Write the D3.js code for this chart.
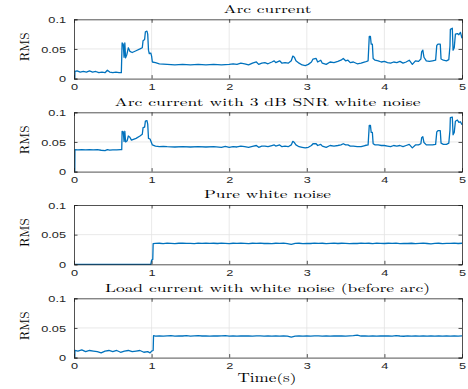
<!DOCTYPE html>
<html><head><meta charset="utf-8">
<script src="https://cdn.jsdelivr.net/npm/d3@7"></script>
<style>body{margin:0;background:#fff}svg{display:block}</style>
</head><body>
<script>
// ---------- data ----------
const titles = ["Arc current","Arc current with 3 dB SNR white noise","Pure white noise","Load current with white noise (before arc)"];
const titleWidths = [88, 306, 127, 325];
const xTicks = [0,1,2,3,4,5];
const yTicks = [0,0.05,0.1];
const yTickLabels = ["0","0.05","0.1"];
const xLabel = "Time(s)";
const yLabel = "RMS";

const arcCurrent = [[0,0],[0.01,0],[0.012,0.012],[0.04,0.013],[0.08,0.011],[0.12,0.012],[0.16,0.011],[0.2,0.013],[0.24,0.011],[0.28,0.012],[0.32,0.010],[0.36,0.011],[0.4,0.010],[0.43,0.014],[0.46,0.011],[0.5,0.010],[0.54,0.011],[0.58,0.010],[0.61,0.010],[0.62,0.060],[0.635,0.058],[0.645,0.036],[0.655,0.060],[0.665,0.035],[0.68,0.040],[0.70,0.052],[0.72,0.046],[0.75,0.044],[0.8,0.047],[0.85,0.050],[0.88,0.052],[0.89,0.064],[0.91,0.066],[0.92,0.079],[0.94,0.080],[0.95,0.075],[0.96,0.048],[0.97,0.042],[0.99,0.043],[1.0,0.038],[1.01,0.028],[1.05,0.027],[1.1,0.025],[1.2,0.024],[1.3,0.023],[1.4,0.024],[1.5,0.023],[1.6,0.024],[1.7,0.023],[1.8,0.024],[1.9,0.023],[2.0,0.024],[2.05,0.025],[2.1,0.024],[2.15,0.026],[2.2,0.025],[2.25,0.023],[2.3,0.026],[2.35,0.028],[2.38,0.024],[2.42,0.026],[2.46,0.027],[2.5,0.025],[2.55,0.028],[2.58,0.030],[2.6,0.027],[2.65,0.030],[2.68,0.026],[2.72,0.027],[2.76,0.026],[2.8,0.030],[2.82,0.038],[2.84,0.036],[2.86,0.030],[2.9,0.026],[2.94,0.023],[2.98,0.022],[3.02,0.024],[3.06,0.028],[3.08,0.033],[3.12,0.034],[3.14,0.028],[3.18,0.031],[3.2,0.026],[3.25,0.024],[3.3,0.028],[3.35,0.027],[3.4,0.029],[3.44,0.031],[3.47,0.034],[3.5,0.030],[3.53,0.031],[3.56,0.027],[3.6,0.028],[3.65,0.025],[3.7,0.026],[3.75,0.028],[3.79,0.030],[3.805,0.071],[3.82,0.071],[3.83,0.058],[3.845,0.058],[3.855,0.034],[3.88,0.031],[3.92,0.030],[3.96,0.028],[4.0,0.029],[4.04,0.027],[4.08,0.026],[4.12,0.028],[4.16,0.027],[4.2,0.029],[4.24,0.026],[4.28,0.028],[4.32,0.031],[4.36,0.024],[4.4,0.030],[4.44,0.029],[4.47,0.033],[4.48,0.045],[4.495,0.048],[4.51,0.036],[4.54,0.030],[4.58,0.029],[4.62,0.030],[4.66,0.031],[4.675,0.056],[4.69,0.058],[4.72,0.058],[4.73,0.033],[4.76,0.031],[4.8,0.030],[4.83,0.032],[4.845,0.055],[4.85,0.083],[4.875,0.085],[4.885,0.048],[4.9,0.052],[4.915,0.075],[4.94,0.076],[4.96,0.074],[4.98,0.078],[5.0,0.068]];

const arcNoisy = [[0,0],[0.01,0],[0.012,0.037],[0.05,0.0365],[0.1,0.037],[0.15,0.0365],[0.2,0.0372],[0.25,0.0365],[0.3,0.037],[0.35,0.036],[0.4,0.0355],[0.43,0.0372],[0.46,0.0362],[0.5,0.0368],[0.55,0.0365],[0.6,0.037],[0.615,0.037],[0.62,0.068],[0.635,0.067],[0.645,0.051],[0.655,0.068],[0.665,0.050],[0.685,0.052],[0.70,0.060],[0.72,0.058],[0.74,0.053],[0.8,0.056],[0.85,0.060],[0.88,0.063],[0.89,0.074],[0.91,0.075],[0.92,0.085],[0.94,0.086],[0.95,0.080],[0.96,0.056],[0.98,0.055],[0.995,0.050],[1.01,0.045],[1.05,0.043],[1.1,0.042],[1.15,0.0425],[1.2,0.042],[1.3,0.0415],[1.4,0.042],[1.5,0.0415],[1.6,0.042],[1.7,0.0415],[1.8,0.042],[1.9,0.041],[1.95,0.0425],[2.0,0.041],[2.05,0.042],[2.1,0.0415],[2.15,0.043],[2.2,0.042],[2.25,0.041],[2.3,0.0425],[2.35,0.044],[2.38,0.041],[2.42,0.043],[2.46,0.043],[2.5,0.042],[2.55,0.044],[2.58,0.045],[2.6,0.043],[2.65,0.045],[2.68,0.042],[2.72,0.043],[2.76,0.042],[2.8,0.045],[2.82,0.051],[2.84,0.049],[2.86,0.045],[2.9,0.042],[2.94,0.041],[2.98,0.040],[3.02,0.041],[3.06,0.044],[3.08,0.047],[3.12,0.047],[3.14,0.044],[3.18,0.046],[3.2,0.043],[3.25,0.041],[3.3,0.044],[3.35,0.043],[3.4,0.044],[3.44,0.045],[3.47,0.047],[3.5,0.045],[3.53,0.045],[3.56,0.043],[3.6,0.043],[3.65,0.042],[3.7,0.042],[3.75,0.044],[3.79,0.045],[3.805,0.078],[3.82,0.078],[3.83,0.066],[3.845,0.066],[3.855,0.047],[3.88,0.045],[3.92,0.045],[3.96,0.044],[4.0,0.044],[4.04,0.043],[4.08,0.042],[4.12,0.044],[4.16,0.043],[4.2,0.044],[4.24,0.042],[4.28,0.044],[4.32,0.046],[4.36,0.040],[4.4,0.045],[4.44,0.045],[4.47,0.047],[4.48,0.057],[4.495,0.059],[4.51,0.049],[4.54,0.045],[4.58,0.045],[4.62,0.045],[4.66,0.046],[4.675,0.067],[4.69,0.069],[4.72,0.069],[4.73,0.048],[4.76,0.046],[4.8,0.046],[4.83,0.048],[4.845,0.070],[4.85,0.091],[4.875,0.092],[4.885,0.062],[4.9,0.066],[4.915,0.085],[4.94,0.087],[4.96,0.083],[4.98,0.084],[5.0,0.079]];

const pureNoise = [[0,0],[0.99,0],[1.0,0.007],[1.015,0.008],[1.02,0.035],[1.05,0.0352],[1.1,0.0355],[1.15,0.0350],[1.2,0.0356],[1.25,0.0353],[1.3,0.0349],[1.35,0.0355],[1.4,0.0357],[1.45,0.0352],[1.5,0.0354],[1.55,0.0350],[1.6,0.0356],[1.65,0.0353],[1.7,0.0358],[1.75,0.0352],[1.8,0.0355],[1.85,0.0351],[1.9,0.0356],[1.95,0.0353],[2.0,0.0350],[2.05,0.0355],[2.1,0.0352],[2.15,0.0357],[2.2,0.0353],[2.25,0.0350],[2.3,0.0355],[2.35,0.0352],[2.4,0.0356],[2.45,0.0351],[2.5,0.0354],[2.55,0.0350],[2.6,0.0355],[2.65,0.0352],[2.7,0.0356],[2.75,0.0350],[2.8,0.0336],[2.85,0.0352],[2.9,0.0355],[2.95,0.0350],[3.0,0.0354],[3.05,0.0351],[3.1,0.0356],[3.15,0.0352],[3.2,0.0355],[3.25,0.0350],[3.3,0.0354],[3.35,0.0357],[3.4,0.0351],[3.45,0.0355],[3.5,0.0352],[3.55,0.0349],[3.6,0.0354],[3.65,0.0351],[3.7,0.0356],[3.75,0.0352],[3.8,0.0355],[3.85,0.0350],[3.9,0.0357],[3.95,0.0353],[4.0,0.0351],[4.05,0.0355],[4.1,0.0352],[4.15,0.0356],[4.2,0.0350],[4.25,0.0354],[4.3,0.0351],[4.35,0.0355],[4.4,0.0348],[4.45,0.0353],[4.5,0.0356],[4.55,0.0351],[4.6,0.0346],[4.65,0.0353],[4.7,0.0355],[4.75,0.0350],[4.8,0.0354],[4.85,0.0352],[4.9,0.0356],[4.95,0.0351],[5.0,0.0355]];

const loadNoise = [[0,0],[0.01,0],[0.012,0.012],[0.05,0.011],[0.1,0.013],[0.15,0.010],[0.2,0.012],[0.25,0.011],[0.3,0.010],[0.35,0.008],[0.4,0.011],[0.45,0.012],[0.5,0.010],[0.55,0.012],[0.6,0.009],[0.65,0.011],[0.7,0.012],[0.75,0.010],[0.8,0.011],[0.85,0.012],[0.9,0.009],[0.95,0.010],[0.98,0.008],[1.0,0.011],[1.02,0.012],[1.025,0.037],[1.05,0.0362],[1.1,0.0368],[1.15,0.0362],[1.2,0.0366],[1.25,0.0370],[1.3,0.0363],[1.35,0.0367],[1.4,0.0364],[1.45,0.0369],[1.5,0.0363],[1.55,0.0366],[1.6,0.0370],[1.65,0.0364],[1.7,0.0367],[1.75,0.0362],[1.8,0.0368],[1.85,0.0364],[1.9,0.0366],[1.95,0.0370],[2.0,0.0363],[2.05,0.0366],[2.1,0.0362],[2.15,0.0368],[2.2,0.0364],[2.25,0.0367],[2.3,0.0362],[2.35,0.0368],[2.4,0.0365],[2.45,0.0362],[2.5,0.0367],[2.55,0.0363],[2.6,0.0366],[2.65,0.0362],[2.7,0.0365],[2.75,0.0361],[2.8,0.0345],[2.85,0.0362],[2.9,0.0366],[2.95,0.0363],[3.0,0.0367],[3.05,0.0362],[3.1,0.0365],[3.15,0.0368],[3.2,0.0363],[3.25,0.0366],[3.3,0.0362],[3.35,0.0367],[3.4,0.0364],[3.45,0.0368],[3.5,0.0363],[3.55,0.0366],[3.6,0.0369],[3.65,0.0378],[3.7,0.0364],[3.75,0.0367],[3.8,0.0362],[3.85,0.0366],[3.9,0.0363],[3.95,0.0368],[4.0,0.0364],[4.05,0.0366],[4.1,0.0362],[4.15,0.0371],[4.2,0.0364],[4.25,0.0360],[4.3,0.0366],[4.35,0.0362],[4.4,0.0367],[4.45,0.0363],[4.5,0.0365],[4.55,0.0361],[4.6,0.0366],[4.65,0.0363],[4.7,0.0367],[4.75,0.0362],[4.8,0.0365],[4.85,0.0363],[4.9,0.0366],[4.95,0.0362],[5.0,0.0366]];

const series = [arcCurrent, arcNoisy, pureNoise, loadNoise];

// ---------- layout ----------
const W = 468, H = 389;
const left = 74, right = 462;
const panelTops = [19.3, 112.3, 205, 298.3];
const panelH = 59.3;
const lineColor = "#0072BD";
const serif = "'Latin Modern Roman','CMU Serif','Liberation Serif','Times New Roman',serif";
const sans = "'Liberation Sans',Arial,Helvetica,sans-serif";
const hStretch = 1.3;

const svg = d3.select("body").append("svg").attr("width", W).attr("height", H)
  .style("background", "#fff");

const x = d3.scaleLinear().domain([0,5]).range([left, right]);

function stretch(sel, factor, target) {
  sel.each(function(){
    const n = this.getComputedTextLength();
    const L = target != null ? target : n * factor;
    d3.select(this).attr("textLength", L).attr("lengthAdjust", "spacingAndGlyphs");
  });
}

series.forEach((data, i) => {
  const top = panelTops[i], bottom = top + panelH;
  const y = d3.scaleLinear().domain([0, 0.1]).range([bottom, top]);
  const g = svg.append("g");

  // grid
  g.selectAll(".gx").data(xTicks.slice(1, -1)).join("line")
    .attr("x1", d => x(d)).attr("x2", d => x(d)).attr("y1", top).attr("y2", bottom)
    .attr("stroke", "#e3e3e3").attr("stroke-width", 0.8);
  g.selectAll(".gy").data([0.05]).join("line")
    .attr("x1", left).attr("x2", right).attr("y1", d => y(d)).attr("y2", d => y(d))
    .attr("stroke", "#e3e3e3").attr("stroke-width", 0.8);

  // line
  const line = d3.line().x(d => x(d[0])).y(d => y(d[1]));
  g.append("path").datum(data).attr("d", line)
    .attr("fill", "none").attr("stroke", lineColor).attr("stroke-width", 1.3)
    .attr("stroke-linejoin", "round");

  // axes (ticks inside)
  const xAxis = d3.axisBottom(x).tickValues(xTicks).tickSize(-3.5).tickPadding(4.5).tickFormat(d3.format("d"));
  const xAxisTop = d3.axisTop(x).tickValues(xTicks).tickSize(-3.5).tickFormat("");
  const yAxis = d3.axisLeft(y).tickValues(yTicks).tickSize(-3.5).tickPadding(8)
    .tickFormat((d, k) => yTickLabels[k]);
  const yAxisR = d3.axisRight(y).tickValues(yTicks).tickSize(-3.5).tickFormat("");

  const gx = g.append("g").attr("transform", `translate(0,${bottom})`).call(xAxis);
  g.append("g").attr("transform", `translate(0,${top})`).call(xAxisTop);
  const gy = g.append("g").attr("transform", `translate(${left},0)`).call(yAxis);
  g.append("g").attr("transform", `translate(${right},0)`).call(yAxisR);
  g.selectAll(".domain").attr("stroke", "#262626").attr("stroke-width", 0.8);
  g.selectAll(".tick line").attr("stroke", "#262626").attr("stroke-width", 0.8);
  g.selectAll(".tick text").attr("fill", "#262626").style("font-family", sans).style("font-size", "9.8px");
  stretch(gx.selectAll(".tick text"), hStretch);
  stretch(gy.selectAll(".tick text"), hStretch);

  // title
  const t = g.append("text").attr("x", (left + right) / 2 - 0.5).attr("y", top - 6.8)
    .attr("text-anchor", "middle").style("font-family", serif).style("font-size", "11.5px")
    .attr("fill", "#000").text(titles[i]);
  stretch(t, 1, titleWidths[i]);

  // y label
  g.append("text").attr("transform", `translate(28.5,${(top + bottom) / 2 - 2}) rotate(-90)`)
    .attr("text-anchor", "middle").style("font-family", serif).style("font-size", "13px")
    .attr("fill", "#000").text(yLabel);
});

const xl = svg.append("text").attr("x", 267).attr("y", 381.5).attr("text-anchor", "middle")
  .style("font-family", serif).style("font-size", "12.5px").attr("fill", "#000").text(xLabel);
stretch(xl, 1, 59);
</script>
</body></html>
